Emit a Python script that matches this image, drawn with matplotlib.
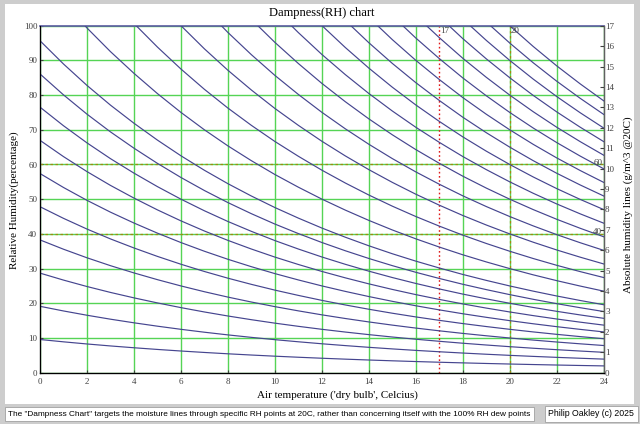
import matplotlib
matplotlib.use("Agg")
import matplotlib.pyplot as plt
from matplotlib.patches import Rectangle

# saturation vapour pressure (hPa) at 0..24 C, 1 degree steps
temps = list(range(0, 25))
es_hpa = [6.11, 6.57, 7.06, 7.58, 8.13, 8.72, 9.35, 10.02, 10.73, 11.48,
          12.28, 13.12, 14.02, 14.97, 15.98, 17.05, 18.18, 19.37, 20.64,
          21.97, 23.38, 24.87, 26.44, 28.09, 29.84]

# RH (%) at 20C that each moisture line goes through
rh_at_20 = [2.5, 5, 7.5, 10, 12.5, 15, 17.5, 20, 22.5, 25,
            30, 35, 40, 45, 50, 55, 60, 65, 70, 75, 80, 85, 90, 95, 100]

x_ticks = list(range(0, 25, 2))
y_ticks = list(range(0, 101, 10))
right_ticks = list(range(0, 18))

marked_temps = [17, 20]
marked_rh = [60, 40]

serif = "Liberation Serif"
sans = "Liberation Sans"

fig = plt.figure(figsize=(6.4, 4.24), dpi=100)
fig.patch.set_facecolor("#cdcdcd")
# white panel behind everything
fig.patches.append(Rectangle((5 / 640, 1 - 404 / 424), 629 / 640, 400 / 424,
                             transform=fig.transFigure, facecolor="white",
                             edgecolor="none", zorder=-10))

ax = fig.add_axes([40 / 640, 1 - 372.7 / 424, 563.7 / 640, 347 / 424])
ax.set_xlim(0, 24)
ax.set_ylim(0, 100)

es20 = es_hpa[temps.index(20)]
for rh in rh_at_20:
    ys = [rh * es20 / e for e in es_hpa]
    ax.plot(temps, ys, color="#45458f", lw=0.85, zorder=3)

# grid
for xv in x_ticks:
    ax.axvline(xv, color="#55d455", lw=1.0, zorder=1)
for yv in y_ticks:
    ax.axhline(yv, color="#55d455", lw=1.0, zorder=1)

# marker lines
ax.axvline(marked_temps[0], color="#e01818", lw=1.0, ls=(0, (1.2, 1.8)), zorder=2)
ax.axvline(marked_temps[1], color="#a08a10", lw=0.9, ls=(0, (2, 2)), zorder=2)
for yv in marked_rh:
    ax.axhline(yv, color="#a08a10", lw=0.9, ls=(0, (2, 2)), zorder=2)
for t in marked_temps:
    ax.text(t + 0.05, 98.5, str(t), fontsize=6.5, family=serif, ha="left",
            va="center", color="#404040", zorder=5)
for r in marked_rh:
    ax.text(23.75, r + 0.5, str(r), fontsize=6.5, family=serif, ha="center",
            va="center", color="#404040", zorder=5)

ax.set_xticks(x_ticks)
ax.set_yticks(y_ticks)
ax.tick_params(axis="both", direction="in", length=2, labelsize=6.5,
               pad=2, colors="#404040")
ax.tick_params(axis="x", pad=3.5)
for lab in ax.get_xticklabels() + ax.get_yticklabels():
    lab.set_family(serif)

for s in ["left", "bottom", "right"]:
    ax.spines[s].set_color("#606060")
    ax.spines[s].set_linewidth(1.0)
ax.spines["top"].set_color("#5a5aa0")
ax.spines["top"].set_linewidth(1.2)

ax2 = ax.twinx()
ax2.set_ylim(0, 17)
ax2.set_yticks(right_ticks)
ax2.tick_params(axis="y", direction="in", length=3, labelsize=6.5, pad=1,
                colors="#404040")
for lab in ax2.get_yticklabels():
    lab.set_family(serif)
ax2.spines["right"].set_color("#606060")
ax2.spines["top"].set_visible(False)

fig.text(322 / 640, 1 - 13 / 424, "Dampness(RH) chart", family=serif,
         fontsize=9, ha="center", va="center")
fig.text(14 / 640, 1 - 200 / 424, "Relative Humidity(percentage)",
         family=serif, fontsize=8, rotation=90, ha="center", va="center")
fig.text(337 / 640, 1 - 395 / 424, "Air temperature ('dry bulb', Celcius)",
         family=serif, fontsize=8, ha="center", va="center")
fig.text(628 / 640, 1 - 205 / 424, "Absolute humidity lines (g/m^3 @20C)",
         family=serif, fontsize=8, rotation=90, ha="center", va="center")

box = dict(facecolor="white", edgecolor="#a0a0a0", lw=0.6, pad=2.5)
fig.text(8 / 640, 1 - 414 / 424,
         "The \"Dampness Chart\" targets the moisture lines through specific "
         "RH points at 20C, rather than concerning itself with the 100% RH dew points",
         family=sans, fontsize=5.95, ha="left", va="center", bbox=box)
fig.text(634 / 640, 1 - 414 / 424, "Philip Oakley (c) 2025", family=sans,
         fontsize=6.3, ha="right", va="center", bbox=box)

fig.savefig("out.png", dpi=100)
